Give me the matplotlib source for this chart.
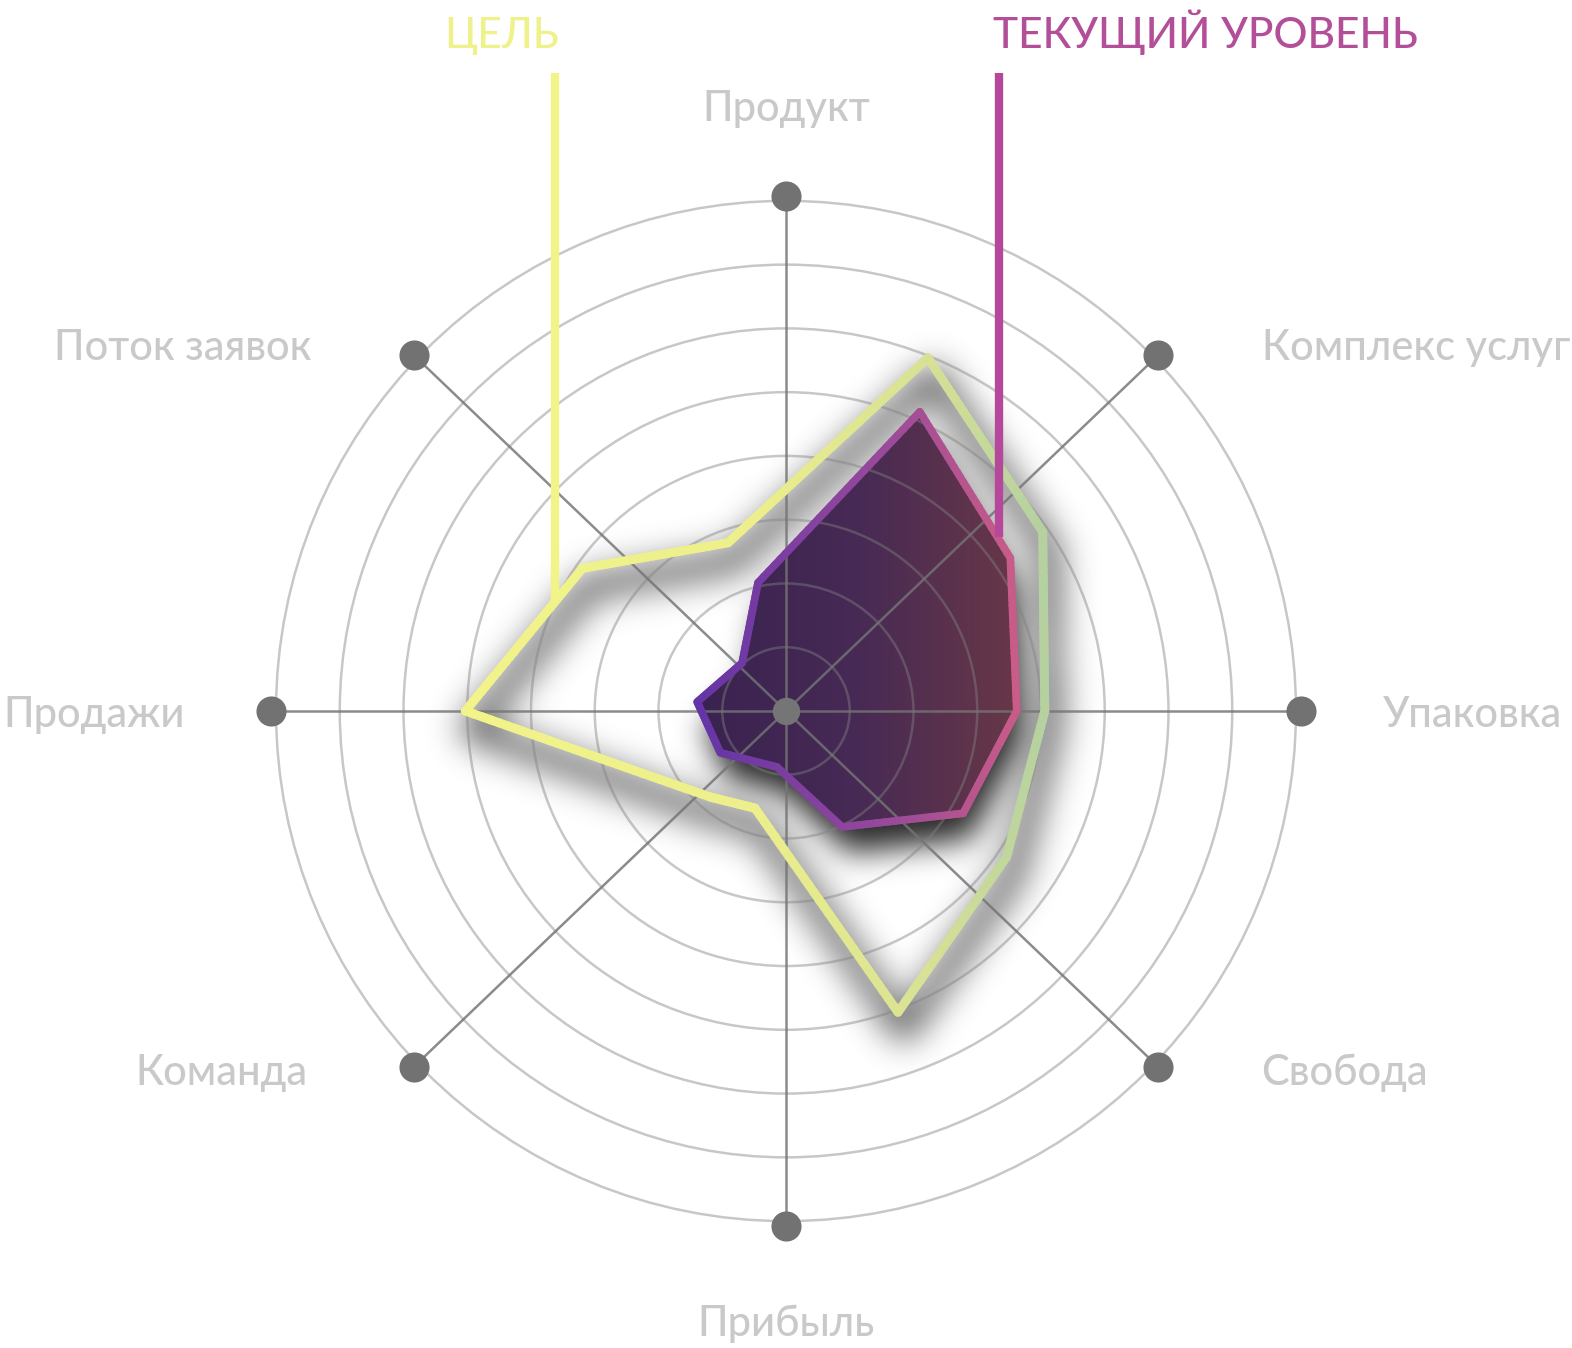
import numpy as np
import matplotlib
matplotlib.use("Agg")
import matplotlib.pyplot as plt
from matplotlib.collections import LineCollection
from matplotlib.colors import LinearSegmentedColormap
from matplotlib.patches import Circle, Polygon
from matplotlib.path import Path

plt.rcParams['font.family'] = ['Lato', 'DejaVu Sans']

# radar axes, counter-clockwise starting from the right
axis_names = ["Упаковка", "Комплекс услуг", "Продукт", "Поток заявок",
              "Продажи", "Команда", "Прибыль", "Свобода"]
axis_angles = [0, 43.7, 90, 136.3, 180, 223.7, 270, 316.3]
ring_levels = [1, 2, 3, 4, 5, 6, 7, 8]

# goal outline (angle in degrees, level on the 0..8 scale)
goal_angles = [145.0, 109.0, 68.1, 34.9, 0.0, -33.5, -69.6, -107.7, -131.5, 180.0]
goal_levels = [3.90, 2.79, 5.97, 4.91, 4.06, 4.15, 5.04, 1.60, 1.80, 5.03]

# current level polygon
current_angles = [102.3, 65.9, 34.3, 0.0, -30.0, -64.2, -99.1, -147.5, 174.2, 132.5]
current_levels = [2.06, 5.14, 4.26, 3.62, 3.21, 2.02, 0.89, 1.22, 1.40, 1.02]

legend_names = ["ЦЕЛЬ", "ТЕКУЩИЙ УРОВЕНЬ"]

# canvas in level units (63.75 px per level, center at 786,711)
XL = (-12.33, 12.33)
YL = (-9.99, 11.15)


def to_xy(angles, levels):
	a = np.radians(angles)
	return np.cos(a) * np.asarray(levels), np.sin(a) * np.asarray(levels)


def blur(img, sigma):
	r = int(3 * sigma)
	k = np.exp(-0.5 * (np.arange(-r, r + 1) / sigma) ** 2)
	k /= k.sum()
	img = np.apply_along_axis(lambda m: np.convolve(m, k, mode='same'), 0, img)
	img = np.apply_along_axis(lambda m: np.convolve(m, k, mode='same'), 1, img)
	return img


def shadow(ax, mask, sigma, strength, z):
	a = blur(mask.astype(float), sigma) * strength
	rgba = np.zeros(mask.shape + (4,))
	rgba[..., 3] = np.clip(a, 0, 1)
	ax.imshow(rgba, origin='lower', extent=[XL[0], XL[1], YL[0], YL[1]],
			  aspect='auto', interpolation='bilinear', zorder=z)


def gradient_line(ax, xs, ys, cmap, lw, z):
	pts = np.column_stack([xs, ys])
	pts = np.vstack([pts, pts[:1]])
	x0, x1 = xs.min(), xs.max()
	segs, cols = [], []
	t = np.linspace(0, 1, 30)
	for p, q in zip(pts[:-1], pts[1:]):
		sp = p + (q - p) * t[:, None]
		for a, b in zip(sp[:-1], sp[1:]):
			segs.append([a, b])
			cols.append(cmap((0.5 * (a[0] + b[0]) - x0) / (x1 - x0)))
	ax.add_collection(LineCollection(segs, colors=cols, linewidths=lw,
									 capstyle='round', zorder=z))


fig = plt.figure(figsize=(15.72, 13.48), dpi=100)
ax = fig.add_axes([0, 0, 1, 1])
ax.set_xlim(*XL)
ax.set_ylim(*YL)
ax.axis('off')

gx, gy = to_xy(goal_angles, goal_levels)
cx, cy = to_xy(current_angles, current_levels)

# raster grid for shadows
step = 0.03
xs = np.arange(XL[0], XL[1], step)
ys = np.arange(YL[0], YL[1], step)
XX, YY = np.meshgrid(xs, ys)
P = np.column_stack([XX.ravel(), YY.ravel()])

# shadow of the current polygon
off = np.array([0.1, -0.42])
inside = Path(np.column_stack([cx, cy]) + off).contains_points(P).reshape(XX.shape)
shadow(ax, inside, 8, 0.85, 1)

# shadow of the goal outline (soft halo)
off = np.array([0.08, -0.3])
gp = np.column_stack([gx, gy]) + off
gp = np.vstack([gp, gp[:1]])
d = np.full(P.shape[0], np.inf)
for p, q in zip(gp[:-1], gp[1:]):
	v = q - p
	tt = np.clip(((P - p) @ v) / (v @ v), 0, 1)
	d = np.minimum(d, np.hypot(*(P - (p + tt[:, None] * v)).T))
line_mask = (d < 0.16).reshape(XX.shape)
shadow(ax, line_mask, 9, 0.75, 1)

# gradient fill of the current polygon
fill_cmap = LinearSegmentedColormap.from_list('fill', ['#3a2250', '#472a55', '#683747'])
patch = Polygon(np.column_stack([cx, cy]), closed=True, facecolor='none',
				edgecolor='none')
ax.add_patch(patch)
im = ax.imshow(np.linspace(0, 1, 256).reshape(1, -1), cmap=fill_cmap,
			   extent=[cx.min(), cx.max(), cy.min(), cy.max()],
			   aspect='auto', zorder=2)
im.set_clip_path(patch)

# rings and spokes
for lv in ring_levels:
	ax.add_patch(Circle((0, 0), lv, fill=False, edgecolor='#818181',
						alpha=0.44, lw=1.8, zorder=3))
ex, ey = to_xy(axis_angles, [8.08] * len(axis_angles))
for x, y in zip(ex, ey):
	ax.plot([0, x], [0, y], color='#747474', alpha=0.83, lw=1.8, zorder=3)

# outlines
goal_cmap = LinearSegmentedColormap.from_list(
	'goal', [(0, '#f2f48a'), (0.5, '#ecef8b'), (0.8, '#d8e195'), (1, '#b5d1a0')])
cur_cmap = LinearSegmentedColormap.from_list(
	'cur', [(0, '#6434a6'), (0.6, '#9a4a9a'), (1, '#c95c88')])
gradient_line(ax, gx, gy, goal_cmap, 6.5, 4)
gradient_line(ax, cx, cy, cur_cmap, 5.5, 5)

# legend stems
ax.plot([-3.62, -3.62], [1.74, 10.0], color='#f2f48a', lw=6, zorder=4,
		solid_capstyle='butt')
ax.plot([3.34, 3.34], [2.73, 10.0], color='#b5489a', lw=6, zorder=5,
		solid_capstyle='butt')
ax.text(-3.57, 10.4, legend_names[0], color='#eff28a', fontsize=30.5,
		fontweight='medium', ha='right', va='baseline')
ax.text(3.25, 10.4, legend_names[1], color='#b34e99', fontsize=30.5,
		fontweight='medium', ha='left', va='baseline')

# end dots and center
ax.scatter(ex, ey, s=470, color='#727272', zorder=6, linewidths=0)
ax.scatter([0], [0], s=390, color='#757575', zorder=6, linewidths=0)

# axis labels
label_pos = {
	"Упаковка": (9.37, -0.25, 'left'),
	"Комплекс услуг": (7.46, 5.50, 'left'),
	"Продукт": (0.0, 9.25, 'center'),
	"Поток заявок": (-7.44, 5.50, 'right'),
	"Продажи": (-9.43, -0.25, 'right'),
	"Команда": (-7.50, -5.86, 'right'),
	"Прибыль": (0.0, -9.80, 'center'),
	"Свобода": (7.46, -5.86, 'left'),
}
for name in axis_names:
	x, y, ha = label_pos[name]
	ax.text(x, y, name, color='#c9c9c9', fontsize=30, fontweight='medium',
			ha=ha, va='baseline')

fig.savefig('out.png', dpi=100, facecolor='white')
